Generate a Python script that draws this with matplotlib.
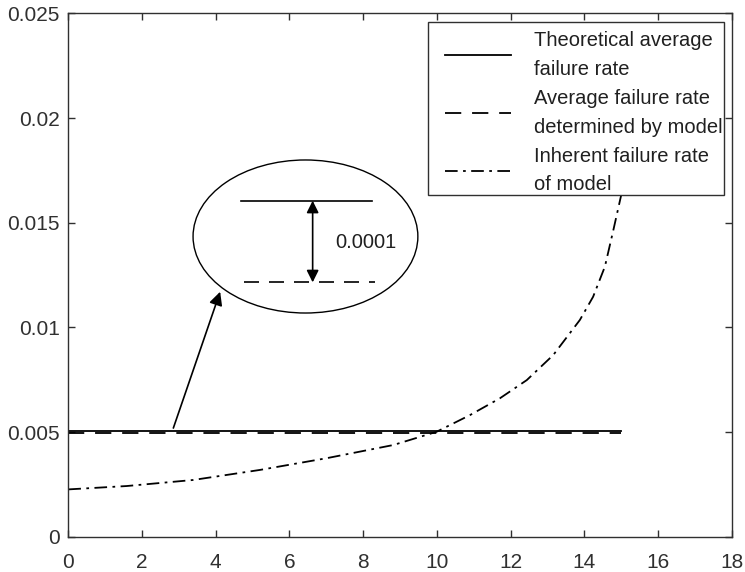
import matplotlib.pyplot as plt
from matplotlib.patches import Ellipse, Rectangle

plt.rcParams['font.family'] = ['Liberation Sans', 'DejaVu Sans']

# data
x_line = [0, 15]
y_theory = [0.00504, 0.00504]
y_model = [0.00497, 0.00497]

x_inh = [0, 1.58, 3.39, 5.20, 7.01, 8.82, 9.99, 10.90, 11.71, 12.44, 13.16,
         13.88, 14.24, 14.56, 14.79, 15.0]
y_inh = [0.00226, 0.00242, 0.00271, 0.00319, 0.00375, 0.00438, 0.00501,
         0.00581, 0.00661, 0.00748, 0.00868, 0.01035, 0.01146, 0.0129,
         0.01465, 0.0163]

xticks = [0, 2, 4, 6, 8, 10, 12, 14, 16, 18]
yticks = [0, 0.005, 0.01, 0.015, 0.02, 0.025]
ylabels = ["0", "0.005", "0.01", "0.015", "0.02", "0.025"]

labels = ["Theoretical average\nfailure rate",
          "Average failure rate\ndetermined by model",
          "Inherent failure rate\nof model"]

dash = (9, 6)
dashdot = (7, 3, 1.5, 3)
tc = '#303030'

fig = plt.figure(figsize=(7.45, 5.72), dpi=100)
ax = fig.add_axes([0.0917, 0.0617, 0.9821 - 0.0917, 0.9767 - 0.0617])

l1, = ax.plot(x_line, y_theory, color='k', lw=1.3)
l2, = ax.plot(x_line, y_model, color='k', lw=1.3, dashes=dash)
l3, = ax.plot(x_inh, y_inh, color='k', lw=1.3, dashes=dashdot)

# zoom-in sketch
ax.add_patch(Ellipse((6.435, 0.01434), 6.10, 0.00731, fill=False, ec='k', lw=1.0))
ax.plot([4.68, 8.23], [0.01605, 0.01605], color='k', lw=1.2)
ax.plot([4.77, 8.32], [0.01215, 0.01215], color='k', lw=1.2, dashes=dash)
ax.annotate("", xy=(6.63, 0.01605), xytext=(6.63, 0.01215),
            arrowprops=dict(arrowstyle='<|-|>', color='k', lw=1.2,
                            mutation_scale=18, shrinkA=0, shrinkB=0))
ax.text(7.24, 0.01404, "0.0001", fontsize=14.5, va='center', ha='left', color='#202020')
ax.annotate("", xy=(4.12, 0.0117), xytext=(2.85, 0.00519),
            arrowprops=dict(arrowstyle='-|>', color='k', lw=1.2,
                            mutation_scale=20, shrinkA=0, shrinkB=0))

ax.set_xlim(0, 18)
ax.set_ylim(0, 0.025)
ax.set_xticks(xticks)
ax.set_yticks(yticks)
ax.set_yticklabels(ylabels)
ax.tick_params(direction='in', top=True, right=True, length=5, width=1,
               labelsize=15, colors=tc)
ax.tick_params(axis='x', pad=12)
ax.tick_params(axis='y', pad=6)
for s in ax.spines.values():
    s.set_color(tc)
    s.set_linewidth(1.0)

# legend: box drawn separately, content placed without frame
box = Rectangle((428 / 745, 1 - 195 / 572), (724 - 428) / 745, (195 - 22) / 572,
                transform=fig.transFigure, facecolor='white', edgecolor=tc,
                lw=1.0, zorder=4, clip_on=False)
ax.add_patch(box)
leg = ax.legend([l1, l2, l3], labels, loc='upper left',
                bbox_to_anchor=(445 / 745, 1 - 31 / 572), bbox_transform=fig.transFigure,
                frameon=False, fontsize=14.5, borderpad=0, borderaxespad=0,
                handlelength=3.3, handletextpad=1.1, labelspacing=0.5)
for t in leg.get_texts():
    t.set_linespacing(1.65)
    t.set_color('#202020')
leg.set_zorder(6)

fig.savefig("out.png", dpi=100)
